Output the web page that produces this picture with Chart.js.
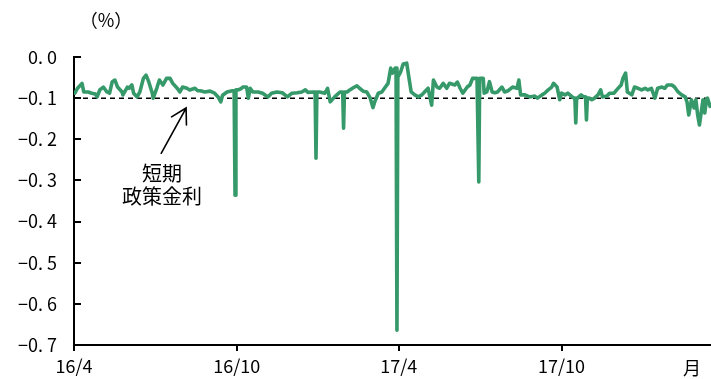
<!DOCTYPE html>
<html>
<head>
<meta charset="utf-8">
<script src="https://cdn.jsdelivr.net/npm/chart.js@4/dist/chart.umd.min.js"></script>
<style>
  html, body { margin: 0; padding: 0; background: #fff; }
  canvas { display: block; }
</style>
</head>
<body>
<canvas id="chart" width="711" height="379"></canvas>
<script>
// Calendar days counted from 1 April 2016
const dayOffsets = [
  1, 4, 9, 11, 16, 20, 24, 26, 29, 33, 37, 40, 43, 46, 49, 54, 55, 60, 62, 65,
  67, 71, 74, 78, 81, 84, 88, 89, 93, 96, 100, 104, 108, 111, 116, 119, 122, 127, 130, 136,
  139, 142, 147, 153, 158, 162, 165, 167, 172, 178, 180, 181, 182, 184, 187, 190, 194, 196, 198, 201,
  207, 212, 218, 222, 228, 234, 240, 245, 251, 256, 260, 263, 269, 271, 272, 273, 276, 282, 285, 288,
  293, 299, 302, 303, 304, 307, 310, 313, 318, 321, 325, 329, 333, 336, 338, 342, 346, 349, 353, 356,
  358, 361, 362, 363, 364, 367, 370, 374, 376, 379, 383, 387, 391, 394, 398, 402, 404, 408, 411, 415,
  419, 422, 428, 431, 434, 437, 442, 445, 448, 453, 454, 455, 456, 457, 460, 461, 464, 467, 470, 473,
  476, 481, 484, 488, 493, 498, 500, 502, 507, 512, 518, 521, 526, 529, 533, 537, 539, 543, 546, 548,
  552, 555, 560, 562, 563, 564, 565, 566, 570, 573, 575, 576, 577, 579, 582, 585, 589, 592, 594, 599,
  602, 607, 610, 615, 617, 620, 622, 627, 630, 634, 638, 642, 645, 649, 653, 656, 661, 664, 667, 672,
  675, 679, 683, 687, 689, 691, 694, 697, 699, 701, 703, 707, 709, 711, 712, 715
];

// Short-term money market rate (%)
const rates = [
  -0.088, -0.076, -0.064, -0.085, -0.085, -0.088, -0.090, -0.097, -0.080, -0.073, -0.085, -0.088, -0.060, -0.056, -0.073, -0.085, -0.092, -0.073, -0.076, -0.068,
  -0.088, -0.097, -0.085, -0.052, -0.044, -0.060, -0.088, -0.100, -0.076, -0.056, -0.068, -0.052, -0.052, -0.064, -0.076, -0.085, -0.073, -0.076, -0.080, -0.076,
  -0.082, -0.082, -0.085, -0.083, -0.088, -0.097, -0.109, -0.093, -0.085, -0.082, -0.082, -0.336, -0.080, -0.080, -0.078, -0.073, -0.073, -0.100, -0.076, -0.085,
  -0.085, -0.088, -0.097, -0.088, -0.085, -0.087, -0.097, -0.088, -0.087, -0.085, -0.080, -0.086, -0.085, -0.085, -0.246, -0.085, -0.085, -0.088, -0.076, -0.109,
  -0.097, -0.085, -0.085, -0.173, -0.085, -0.085, -0.080, -0.076, -0.070, -0.076, -0.083, -0.085, -0.100, -0.123, -0.109, -0.088, -0.085, -0.076, -0.064, -0.027,
  -0.039, -0.027, -0.027, -0.664, -0.049, -0.037, -0.017, -0.015, -0.044, -0.085, -0.092, -0.097, -0.092, -0.085, -0.076, -0.117, -0.056, -0.073, -0.076, -0.064,
  -0.076, -0.064, -0.068, -0.061, -0.076, -0.088, -0.073, -0.068, -0.052, -0.052, -0.052, -0.304, -0.052, -0.052, -0.052, -0.088, -0.085, -0.060, -0.085, -0.087,
  -0.085, -0.073, -0.085, -0.082, -0.073, -0.076, -0.056, -0.092, -0.092, -0.097, -0.095, -0.100, -0.092, -0.088, -0.080, -0.073, -0.064, -0.073, -0.104, -0.088,
  -0.092, -0.088, -0.097, -0.100, -0.100, -0.160, -0.100, -0.100, -0.092, -0.097, -0.097, -0.153, -0.100, -0.100, -0.104, -0.100, -0.092, -0.080, -0.097, -0.095,
  -0.088, -0.088, -0.080, -0.068, -0.052, -0.039, -0.085, -0.092, -0.073, -0.076, -0.080, -0.076, -0.080, -0.076, -0.100, -0.076, -0.073, -0.076, -0.068, -0.068,
  -0.073, -0.085, -0.092, -0.097, -0.109, -0.141, -0.104, -0.124, -0.104, -0.141, -0.165, -0.104, -0.136, -0.102, -0.100, -0.120
];

// Policy rate applied to policy-rate balances (%)
const policyRate = -0.1;

// Axis ticks
const tickDays = [0, 183, 365, 548];
const tickLabels = ['16/4', '16/10', '17/4', '17/10'];
const yTicks = [0, -0.1, -0.2, -0.3, -0.4, -0.5, -0.6, -0.7];
const lastDay = 716;

// Annotation text and arrow (in data units)
const noteLines = ['短期', '政策金利'];
const noteAnchor = { day: 99, rates: [-0.282, -0.340] };
const arrowFrom = { day: 98, rate: -0.234 };
const arrowTo = { day: 126, rate: -0.124 };

const FONT = '"Noto Sans CJK JP", "Noto Sans", sans-serif';
const GREEN = '#36996a';

const points = dayOffsets.map((d, i) => ({ x: d, y: rates[i] }));
const policyLine = [{ x: 0, y: policyRate }, { x: lastDay, y: policyRate }];

function yLabel(v) {
  const s = Math.abs(v).toFixed(1).replace('.', '. ');
  return (v < -1e-9 ? '\u2212' : '') + s;
}

const decorations = {
  id: 'decorations',
  afterDraw(chart) {
    const { ctx, chartArea, scales } = chart;
    const x = scales.x, y = scales.y;
    ctx.save();

    // inward tick marks on the value axis
    ctx.strokeStyle = '#000';
    ctx.lineWidth = 2;
    yTicks.forEach(v => {
      const py = Math.round(y.getPixelForValue(v));
      ctx.beginPath();
      ctx.moveTo(chartArea.left, py);
      ctx.lineTo(chartArea.left + 7, py);
      ctx.stroke();
    });

    // unit label
    ctx.fillStyle = '#000';
    ctx.font = '18px ' + FONT;
    ctx.textAlign = 'center';
    ctx.textBaseline = 'middle';
    ctx.fillText('（%）', 106, 20);

    // trailing axis caption
    ctx.fillText('月', 692, 368);

    // note text
    ctx.font = '20px ' + FONT;
    noteLines.forEach((t, i) => {
      ctx.fillText(t, x.getPixelForValue(noteAnchor.day), y.getPixelForValue(noteAnchor.rates[i]));
    });

    // arrow pointing at the policy rate line
    const x0 = x.getPixelForValue(arrowFrom.day), y0 = y.getPixelForValue(arrowFrom.rate);
    const x1 = x.getPixelForValue(arrowTo.day), y1 = y.getPixelForValue(arrowTo.rate);
    ctx.lineWidth = 1.6;
    ctx.lineCap = 'round';
    ctx.beginPath();
    ctx.moveTo(x0, y0);
    ctx.lineTo(x1, y1);
    const ang = Math.atan2(y0 - y1, x0 - x1);
    const headLen = 17, spread = Math.PI / 6;
    ctx.moveTo(x1 + headLen * Math.cos(ang - spread), y1 + headLen * Math.sin(ang - spread));
    ctx.lineTo(x1, y1);
    ctx.lineTo(x1 + headLen * Math.cos(ang + spread), y1 + headLen * Math.sin(ang + spread));
    ctx.stroke();

    ctx.restore();
  }
};

new Chart(document.getElementById('chart'), {
  type: 'line',
  data: {
    datasets: [
      {
        data: points,
        borderColor: GREEN,
        borderWidth: 3.6,
        pointRadius: 0,
        tension: 0,
        borderJoinStyle: 'round',
        borderCapStyle: 'round'
      },
      {
        data: policyLine,
        borderColor: '#000',
        borderWidth: 1.5,
        borderDash: [5, 4],
        pointRadius: 0,
        tension: 0
      }
    ]
  },
  options: {
    responsive: false,
    animation: false,
    devicePixelRatio: 1,
    layout: { padding: { top: 57, right: 0, bottom: 0, left: 0 } },
    plugins: { legend: { display: false }, tooltip: { enabled: false } },
    scales: {
      x: {
        type: 'linear',
        min: 0,
        max: lastDay,
        afterBuildTicks(scale) { scale.ticks = tickDays.map(v => ({ value: v })); },
        afterFit(scale) { scale.height = 34; },
        ticks: {
          autoSkip: false,
          maxRotation: 0,
          padding: 4,
          color: '#000',
          font: { family: FONT, size: 18 },
          callback: (v, i) => tickLabels[i]
        },
        grid: {
          display: true,
          drawOnChartArea: false,
          drawTicks: true,
          tickLength: 6,
          color: '#000',
          lineWidth: 2
        },
        border: { display: true, color: '#000', width: 2 }
      },
      y: {
        min: -0.7,
        max: 0,
        afterBuildTicks(scale) { scale.ticks = yTicks.map(v => ({ value: v })); },
        afterFit(scale) { scale.width = 74; },
        ticks: {
          padding: 17,
          color: '#000',
          font: { family: FONT, size: 18 },
          callback: v => yLabel(v)
        },
        grid: { display: false, drawTicks: false },
        border: { display: true, color: '#000', width: 2 }
      }
    }
  },
  plugins: [decorations]
});
</script>
</body>
</html>
